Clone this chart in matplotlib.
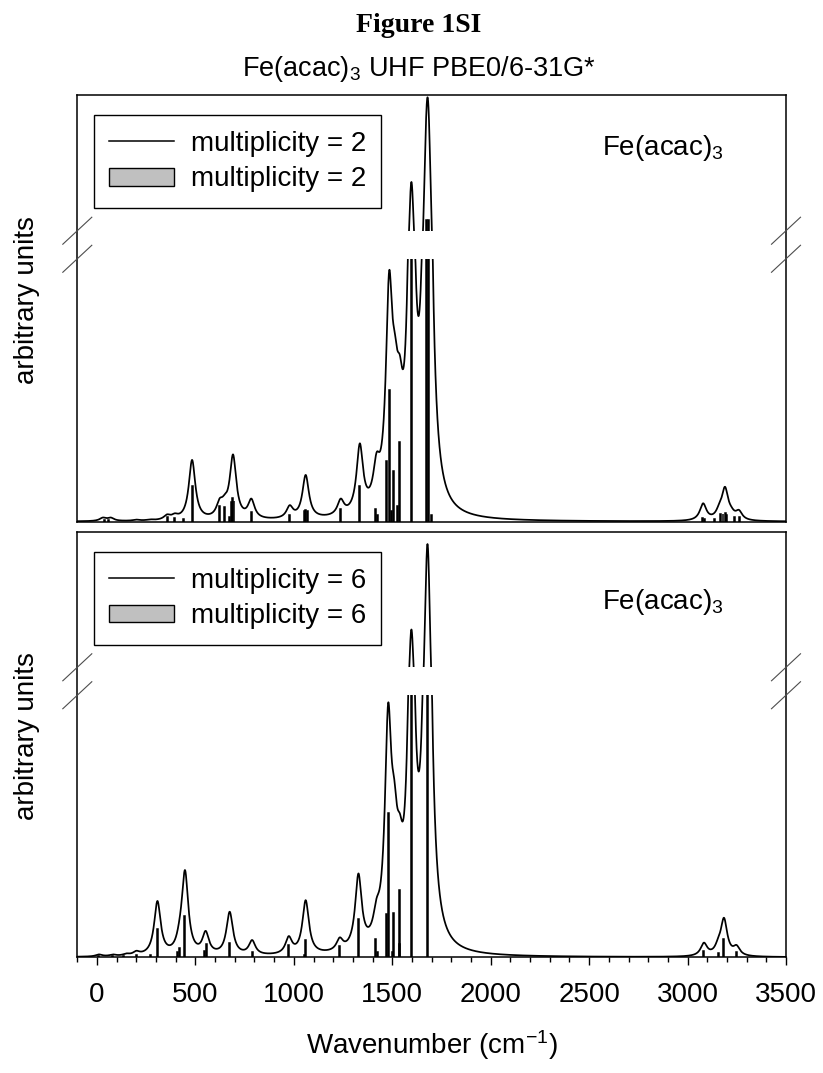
import numpy as np
import matplotlib
import matplotlib.pyplot as plt
from matplotlib.lines import Line2D
from matplotlib.patches import Patch
from matplotlib.ticker import MultipleLocator

plt.rcParams['font.family'] = ['Liberation Sans', 'DejaVu Sans']
plt.rcParams['mathtext.default'] = 'regular'

# === Band maxima (cm-1, arbitrary units) ===
band_pos_2 = [30, 70, 200, 270, 356, 395, 483, 623, 649, 691, 784, 979, 1060, 1238,
              1335, 1420, 1484, 1513, 1538, 1597, 1673, 1685, 3079, 3161, 3190, 3222, 3261]
band_val_2 = [1.6, 1.6, 0.8, 0.9, 2.8, 3.2, 23.5, 8.9, 10.4, 25.6, 8.8, 6.3, 17.8, 8.8,
              29.8, 26.3, 95.4, 71.7, 63.5, 167.5, 224, 224, 7.0, 7.0, 13.3, 5.8, 4.5]

band_pos_6 = [10, 81, 149, 200, 307, 420, 447, 552, 674, 788, 974, 1060, 1233, 1328,
              1420, 1479, 1510, 1538, 1597, 1679, 3083, 3156, 3185, 3249]
band_val_6 = [1.1, 1.1, 1.5, 2.5, 21.5, 15.1, 33.3, 10.1, 17.4, 6.6, 8.1, 21.8, 7.6, 32.0,
              22.5, 97, 68, 55, 158.7, 228.2, 5.6, 7.6, 15.1, 4.7]

# === Stick spectra (computed frequencies / intensities) ===
stick_pos_2 = [40, 60, 356, 395, 437, 483, 623, 649, 675, 683, 689, 696, 784, 979, 1053,
               1060, 1067, 1238, 1335, 1416, 1424, 1470, 1484, 1497, 1505, 1525, 1538,
               1597, 1672, 1686, 1700, 3075, 3085, 3139, 3168, 3180, 3192, 3200, 3240, 3262]
stick_val_2 = [0.8, 0.6, 1.6, 1.3, 1.0, 13.6, 6.0, 5.7, 1.9, 7.5, 9.0, 8.0, 3.5, 2.5, 4.2,
               4.5, 4.2, 4.8, 13.6, 5.0, 2.5, 23.2, 50.1, 3.9, 19.2, 6.0, 30.5,
               118, 137, 137, 2.5, 1.4, 1.2, 1.0, 2.9, 2.9, 3.2, 2.5, 1.8, 1.8]

stick_pos_6 = [10, 81, 135, 200, 273, 307, 410, 420, 447, 545, 556, 674, 788, 974, 1053,
               1060, 1233, 1328, 1416, 1424, 1470, 1479, 1501, 1508, 1535, 1538, 1597,
               1679, 3083, 3156, 3185, 3249]
stick_val_6 = [0.5, 0.4, 0.4, 1.0, 0.9, 10.7, 2.1, 3.4, 15.8, 2.5, 5.0, 5.3, 2.1, 4.6, 0.7,
               6.6, 4.3, 14.8, 6.8, 1.9, 16.5, 55, 2.1, 17.0, 5.0, 25.5, 118,
               120, 2.5, 1.5, 6.9, 2.2]

multiplicities = [2, 6]
tick_values = [0, 500, 1000, 1500, 2000, 2500, 3000, 3500]

HWHM = 20.0
wn = np.linspace(-100, 3500, 7201)


def lorentz(x, c):
    return HWHM ** 2 / ((x - c) ** 2 + HWHM ** 2)


def broadened(pos, val):
    # find band heights so that the summed curve passes through the read maxima
    c = np.array(pos, float)
    A = lorentz(c[:, None], c[None, :])
    h = np.clip(np.linalg.solve(A, np.array(val, float)), 0, None)
    return (h[None, :] * lorentz(wn[:, None], c[None, :])).sum(axis=1)


# === broken y axis: 0-100 lower part, 100-128 hidden, 128-238 upper part ===
knots_v = [-1000, 0, 100, 128, 238, 5000]
knots_s = [-2625, 0, 262.5, 290.5, 426.0, 426.0 + (5000 - 238) * 1.234]


def fwd(v):
    return np.interp(v, knots_v, knots_s)


def inv(s):
    return np.interp(s, knots_s, knots_v)


W, H = 823, 1073
fig = plt.figure(figsize=(W / 100, H / 100), dpi=100)

panels = [
    (band_pos_2, band_val_2, stick_pos_2, stick_val_2, [77.3, 95, 786, 521.7], 0.859),
    (band_pos_6, band_val_6, stick_pos_6, stick_val_6, [77.3, 532, 786, 957.3], 0.818),
]

axes = []
for k, (bp, bv, sp, sv, box, label_y) in enumerate(panels):
    x0, y0, x1, y1 = box
    ax = fig.add_axes([x0 / W, 1 - y1 / H, (x1 - x0) / W, (y1 - y0) / H])
    axes.append(ax)
    ax.set_yscale('function', functions=(fwd, inv))
    ax.set_xlim(-100, 3500)
    ax.set_ylim(0, 238)

    ax.bar(sp, sv, width=5, color='#c0c0c0', edgecolor='black', linewidth=1.1, zorder=2)
    ax.plot(wn, broadened(bp, bv), color='black', lw=1.25, zorder=2.1)

    # hide the broken region
    ax.axhspan(100, 128, color='white', zorder=3, lw=0)
    for s in ax.spines.values():
        s.set_linewidth(1.1)
        s.set_zorder(4)

    ax.set_yticks([])
    if k == 0:
        ax.tick_params(axis='x', bottom=False, labelbottom=False)
    else:
        ax.set_xticks(tick_values)
        ax.xaxis.set_minor_locator(MultipleLocator(100))
        ax.tick_params(axis='x', which='major', direction='out', length=6, width=1,
                       labelsize=20, pad=12)
        ax.tick_params(axis='x', which='minor', direction='out', length=3.8, width=1)
        ax.set_xlabel('Wavenumber (cm$^{-1}$)', fontsize=20, labelpad=14)

    m = multiplicities[k]
    handles = [Line2D([], [], color='black', lw=1.1),
               Patch(facecolor='#c0c0c0', edgecolor='black', lw=1.0)]
    leg = ax.legend(handles, [f'multiplicity = {m}'] * 2, loc='upper left',
                    bbox_to_anchor=(0.023, 0.952), borderaxespad=0, fontsize=20,
                    frameon=True, fancybox=False, framealpha=1, edgecolor='black',
                    handlelength=2.35, handleheight=0.6, handletextpad=0.6,
                    labelspacing=0.35, borderpad=0.55)
    leg.get_frame().set_linewidth(1.0)
    leg.set_zorder(5)

    ax.text(0.74, label_y, 'Fe(acac)$_3$', transform=ax.transAxes, fontsize=20,
            ha='left', va='baseline')

    fig.text(27 / W, (1 - y1 / H + 1 - y0 / H) / 2 + 0.008, 'arbitrary units',
             rotation=90, ha='center', va='center', fontsize=20)

    # break marks on both sides
    for xa in (0, 1):
        for yb in (100, 128):
            px, py = ax.transData.transform((-100 + 3600 * xa, yb))
            pts = fig.transFigure.inverted().transform([(px - 14.5, py - 13.5),
                                                       (px + 14.5, py + 13.5)])
            fig.add_artist(Line2D(pts[:, 0], pts[:, 1], transform=fig.transFigure,
                                  color='0.3', lw=0.8))

fig.text(0.509, 1 - 32 / H, 'Figure 1SI', ha='center', va='baseline', fontsize=20,
         fontweight='bold', family=['Liberation Serif', 'DejaVu Serif'])
fig.text(0.509, 1 - 76 / H, 'Fe(acac)$_3$ UHF PBE0/6-31G*', ha='center', va='baseline',
         fontsize=19.5)

fig.savefig('out.png', dpi=100)
